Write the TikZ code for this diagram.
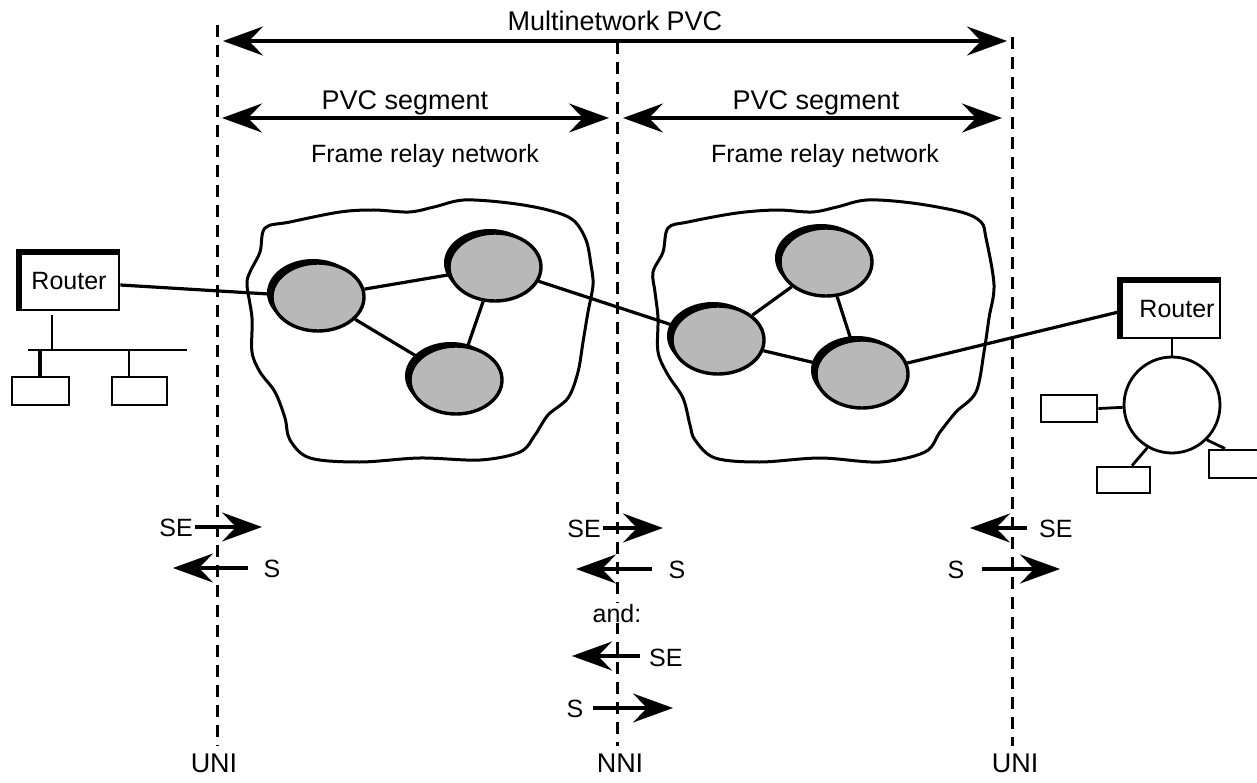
\documentclass[tikz,border=0pt]{standalone}
\usepackage{fontspec}
\setmainfont{Liberation Sans}
\usetikzlibrary{arrows.meta,shapes.geometric,shadows}
\begin{document}
\begin{tikzpicture}[x=1pt,y=-1pt,
  lbl/.style={anchor=base, inner sep=0pt, font=\fontsize{27}{30}\selectfont},
  slbl/.style={anchor=base, inner sep=0pt, font=\fontsize{25}{28}\selectfont},
  boundary/.style={line width=3pt, dash pattern=on 12pt off 8pt},
  tip/.tip={Stealth[length=40pt,width=29pt,inset=14pt]},
  bigarrow/.style={line width=3.2pt, -tip},
  dblarrow/.style={line width=3.2pt, tip-tip},
  cloudline/.style={line width=3pt},
  link/.style={line width=3.2pt},
  netnode/.style={ellipse, draw, line width=3.4pt, fill=black!28, minimum width=92pt, minimum height=68pt, inner sep=0pt,
     drop shadow={shadow xshift=-5pt, shadow yshift=4pt, fill=black, opacity=1}},
  pc/.style={draw, line width=2.8pt, inner sep=0pt},
  router/.style={draw, line width=2.8pt, inner sep=0pt, minimum width=100pt, minimum height=58pt, font=\fontsize{25}{28}\selectfont}
]
\useasboundingbox (0,0) rectangle (1257,783);

% boundaries
\coordinate (u1t) at (217,25);  \coordinate (u1b) at (217,746);
\coordinate (nnt) at (617,42);  \coordinate (nnb) at (617,746);
\coordinate (u2t) at (1012,37); \coordinate (u2b) at (1012,746);
\draw[boundary] (u1t) -- (u1b);
\draw[boundary] (nnt) -- (nnb);
\draw[boundary] (u2t) -- (u2b);

\node[lbl] (uniL) at (214,772) {UNI};
\node[lbl] (nni) at (620,772) {NNI};
\node[lbl] (uniR) at (1015,772) {UNI};

% top arrows
\coordinate (mpL) at (223,41); \coordinate (mpR) at (1007,41);
\draw[dblarrow] (mpL) -- (mpR);
\node[lbl] (mp) at (615,31) {Multinetwork PVC};
\coordinate (s1L) at (222,118); \coordinate (s1R) at (609,118);
\coordinate (s2L) at (623,118); \coordinate (s2R) at (1002,118);
\draw[dblarrow] (s1L) -- (s1R);
\draw[dblarrow] (s2L) -- (s2R);
\node[lbl] (seg1) at (405,110) {PVC segment};
\node[lbl] (seg2) at (816,110) {PVC segment};
\node[lbl, font=\fontsize{25}{28}\selectfont] (fr1) at (425,163) {Frame relay network};
\node[lbl, font=\fontsize{25}{28}\selectfont] (fr2) at (825,163) {Frame relay network};

% clouds
\draw[cloudline] plot[smooth cycle, tension=0.55] coordinates {
 (265,228) (290,222) (340,212) (374,210) (409,212) (434,207) (464,200) (509,203) (548,210) (573,220)
 (586,240) (591,265) (593,285) (588,312) (583,342) (578,372) (568,398) (548,415) (535,435) (520,452)
 (480,460) (420,458) (360,462) (310,458) (290,440) (285,418) (275,392) (260,372) (252,352) (252,318)
 (247,285) (250,272) (260,252)};
\draw[cloudline] plot[smooth cycle, tension=0.55] coordinates {
 (668,228) (688,222) (737,213) (777,210) (812,212) (837,207) (867,200) (912,203) (961,212) (981,222)
 (986,238) (994,285) (989,318) (984,352) (976,392) (956,412) (940,432) (925,452) (880,462) (820,458)
 (760,462) (715,458) (695,440) (690,425) (683,398) (668,375) (658,352) (658,318) (655,292) (653,272)
 (663,252)};

% switches
\node[netnode] (n1) at (318,297) {};
\node[netnode] (n2) at (495,267) {};
\node[netnode] (n3) at (456,380) {};
\node[netnode] (n4) at (718,340) {};
\node[netnode] (n5) at (826,262) {};
\node[netnode] (n6) at (862,374) {};
\draw[link] (n1) -- (n2);
\draw[link] (n1) -- (n3);
\draw[link] (n2) -- (n3);
\draw[link] (n2) -- (n4);
\draw[link] (n4) -- (n5);
\draw[link] (n4) -- (n6);
\draw[link] (n5) -- (n6);

% left router and LAN
\node[router] (rL) at (69,281) {Router};
\draw[line width=6pt] ([xshift=1.5pt]rL.south west) -- ([xshift=1.5pt,yshift=-1.5pt]rL.north west) -- ([yshift=-1.5pt]rL.north east);
\draw[link] (rL.east |- 0,285) -- (n1);
\coordinate (busL) at (28,350); \coordinate (busR) at (187,350);
\draw[line width=2.8pt] (busL) -- (busR);
\coordinate (rLd) at (52,315);
\draw[line width=2.8pt] (rLd) -- (rLd |- busL);
\node[pc, minimum width=57pt, minimum height=28pt] (pc1) at (40.5,391) {};
\node[pc, minimum width=55pt, minimum height=28pt] (pc2) at (139.5,391) {};
\draw[line width=3.6pt] (pc1.north -| 40,0) -- (40,350);
\draw[line width=2.8pt] (pc2.north -| 129,0) -- (129,350);

% right router and ring
\node[router] (rR) at (1170,309) {\hspace*{14pt}Router};
\draw[line width=6pt] ([xshift=1.5pt]rR.south west) -- ([xshift=1.5pt,yshift=-1.5pt]rR.north west) -- ([yshift=-1.5pt]rR.north east);
\draw[link] (rR.west |- 0,312) -- (n6);
\node[circle, draw, line width=2.8pt, minimum size=96pt, inner sep=0pt] (ring) at (1172,405) {};
\draw[line width=2.8pt] (rR.south -| 1172,0) -- (ring);
\node[pc, minimum width=56pt, minimum height=27pt] (pc3) at (1069,408.5) {};
\node[pc, minimum width=53pt, minimum height=26pt] (pc4) at (1123.5,480) {};
\node[pc, minimum width=56pt, minimum height=28pt] (pc5) at (1237,464) {};
\draw[line width=2.8pt] (pc3.east) -- (ring);
\draw[line width=2.8pt] (ring.240) -- (pc4.north -| 1132,0);
\draw[line width=2.8pt] (ring.-45) -- (pc5.north -| 1225,0);

% status signalling arrows - left UNI
\coordinate (a1s) at (195,527); \coordinate (a1e) at (262,527);
\draw[bigarrow] (a1s) -- (a1e);
\node[slbl, anchor=base east] (t1) at (193,536) {SE};
\coordinate (a2s) at (248,568); \coordinate (a2e) at (173,568);
\draw[bigarrow] (a2s) -- (a2e);
\node[slbl] (t2) at (272,577) {S};

% NNI
\coordinate (b1s) at (603,528); \coordinate (b1e) at (663,528);
\draw[bigarrow] (b1s) -- (b1e);
\node[slbl, anchor=base east] (t3) at (601,537) {SE};
\coordinate (b2s) at (652,569); \coordinate (b2e) at (576,569);
\draw[bigarrow] (b2s) -- (b2e);
\node[slbl] (t4) at (677,578) {S};
\node[slbl, fill=white, inner sep=1pt] (and) at (617,622) {and:};
\coordinate (b3s) at (640,656); \coordinate (b3e) at (572,656);
\draw[bigarrow] (b3s) -- (b3e);
\node[slbl, anchor=base west] (t5) at (649,666) {SE};
\coordinate (b4s) at (593,708); \coordinate (b4e) at (673,708);
\draw[bigarrow] (b4s) -- (b4e);
\node[slbl] (t6) at (575,717) {S};

% right UNI
\coordinate (c1s) at (1027,528); \coordinate (c1e) at (970,528);
\draw[bigarrow] (c1s) -- (c1e);
\node[slbl, anchor=base west] (t7) at (1039,537) {SE};
\coordinate (c2s) at (982,569); \coordinate (c2e) at (1060,569);
\draw[bigarrow] (c2s) -- (c2e);
\node[slbl] (t8) at (956,578) {S};
\end{tikzpicture}
\end{document}
